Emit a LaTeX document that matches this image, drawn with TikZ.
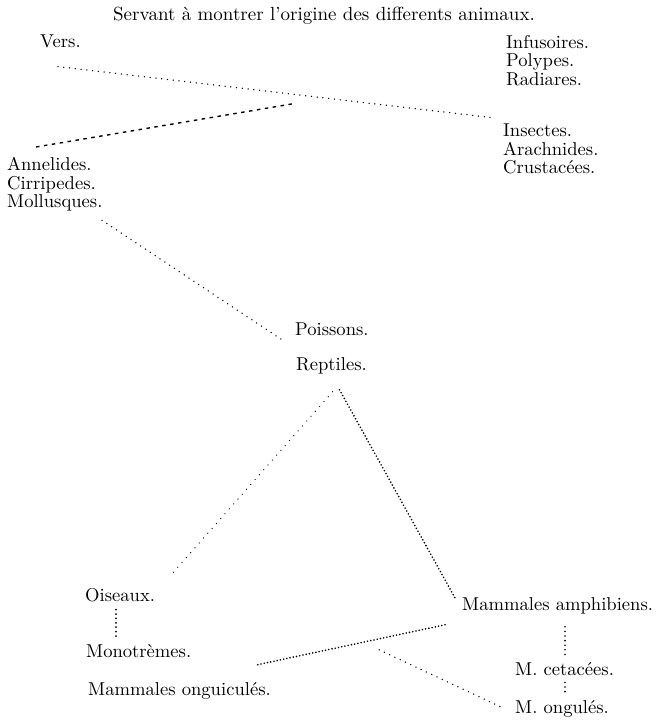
\documentclass[tikz,border=0pt]{standalone}
\usepackage{fontspec}
\setmainfont{lmroman10-regular.otf}
\usepackage{tikz}

\begin{document}
\begin{tikzpicture}[x=1pt,y=-1pt,
  taxon/.style={inner sep=0pt,align=left,font=\fontsize{18.6}{18.5}\selectfont},
  sparse/.style={line cap=round,line width=1.5pt,dash pattern=on 0pt off 5.8pt},
  thin dots/.style={line cap=round,line width=1.3pt,dash pattern=on 0pt off 6.5pt},
  dense/.style={line cap=round,line width=1.8pt,dash pattern=on 0pt off 3.3pt},
  broken/.style={line width=1.4pt,dash pattern=on 3.5pt off 4.5pt}
]
\path[use as bounding box,fill=white] (0,0) rectangle (658,720);

\node[taxon,anchor=base,font=\fontsize{19}{19}\selectfont] (title) at (324,20) {Servant à montrer l'origine des differents animaux.};

% upper part
\node[taxon,anchor=base west] (vers) at (40,47) {Vers.};
\node[taxon,anchor=north west] (infus) at (506,35) {Infusoires.\\Polypes.\\Radiares.};
\node[taxon,anchor=north west] (insect) at (503,124) {Insectes.\\Arachnides.\\Crustacées.};
\node[taxon,anchor=north west] (annel) at (7,157) {Annelides.\\Cirripedes.\\Mollusques.};

% middle
\node[taxon,anchor=base west] (poiss) at (295,335) {Poissons.};
\node[taxon,anchor=base west] (rept) at (296,370) {Reptiles.};

% birds and mammals
\node[taxon,anchor=base west] (ois) at (85,601) {Oiseaux.};
\node[taxon,anchor=base west] (mono) at (86,657) {Monotrèmes.};
\node[taxon,anchor=base west] (ongui) at (88,695) {Mammales onguiculés.};
\node[taxon,anchor=base west] (amph) at (462,610) {Mammales amphibiens.};
\node[taxon,anchor=base west] (ceta) at (515,675) {M. cetacées.};
\node[taxon,anchor=base west] (ongul) at (515,713) {M. ongulés.};

\draw[sparse] ([shift={(18,19)}]vers.south west) -- coordinate[pos=.542] (vfork) ([shift={(-8,-6)}]insect.north west);
\draw[broken] ([shift={(29,-10)}]annel.north west) -- ([shift={(0,9)}]vfork);
\draw[sparse] ([shift={(95,9)}]annel.south west) -- ([shift={(-12,5)}]poiss.south west);

\draw[thin dots] ([shift={(1,18)}]rept.south) -- ([shift={(16,-13)}]ois.north east);
\draw[dense] ([shift={(8,16)}]rept.south) -- ([shift={(-7,1)}]amph.north west);
\draw[dense,line width=2pt,dash pattern=on 0pt off 4.4pt] ([shift={(31,8)}]ois.south west) -- ([shift={(30,-4)}]mono.north west);

\draw[dense] ([shift={(-17,11)}]amph.south west) -- coordinate[pos=.35] (afork) ([shift={(-14,-17)}]ongui.north east);
\draw[sparse] ([shift={(0,11)}]afork) -- ([shift={(-13,-1)}]ongul.west);
\draw[sparse,line width=1.8pt,dash pattern=on 0pt off 4.6pt] ([shift={(103,13)}]amph.south west) -- ([shift={(50,-7)}]ceta.north west);
\draw[sparse,line width=1.8pt,dash pattern=on 0pt off 4.6pt] ([shift={(50,7)}]ceta.south west) -- ([shift={(50,-7)}]ongul.north west);
\end{tikzpicture}
\end{document}
